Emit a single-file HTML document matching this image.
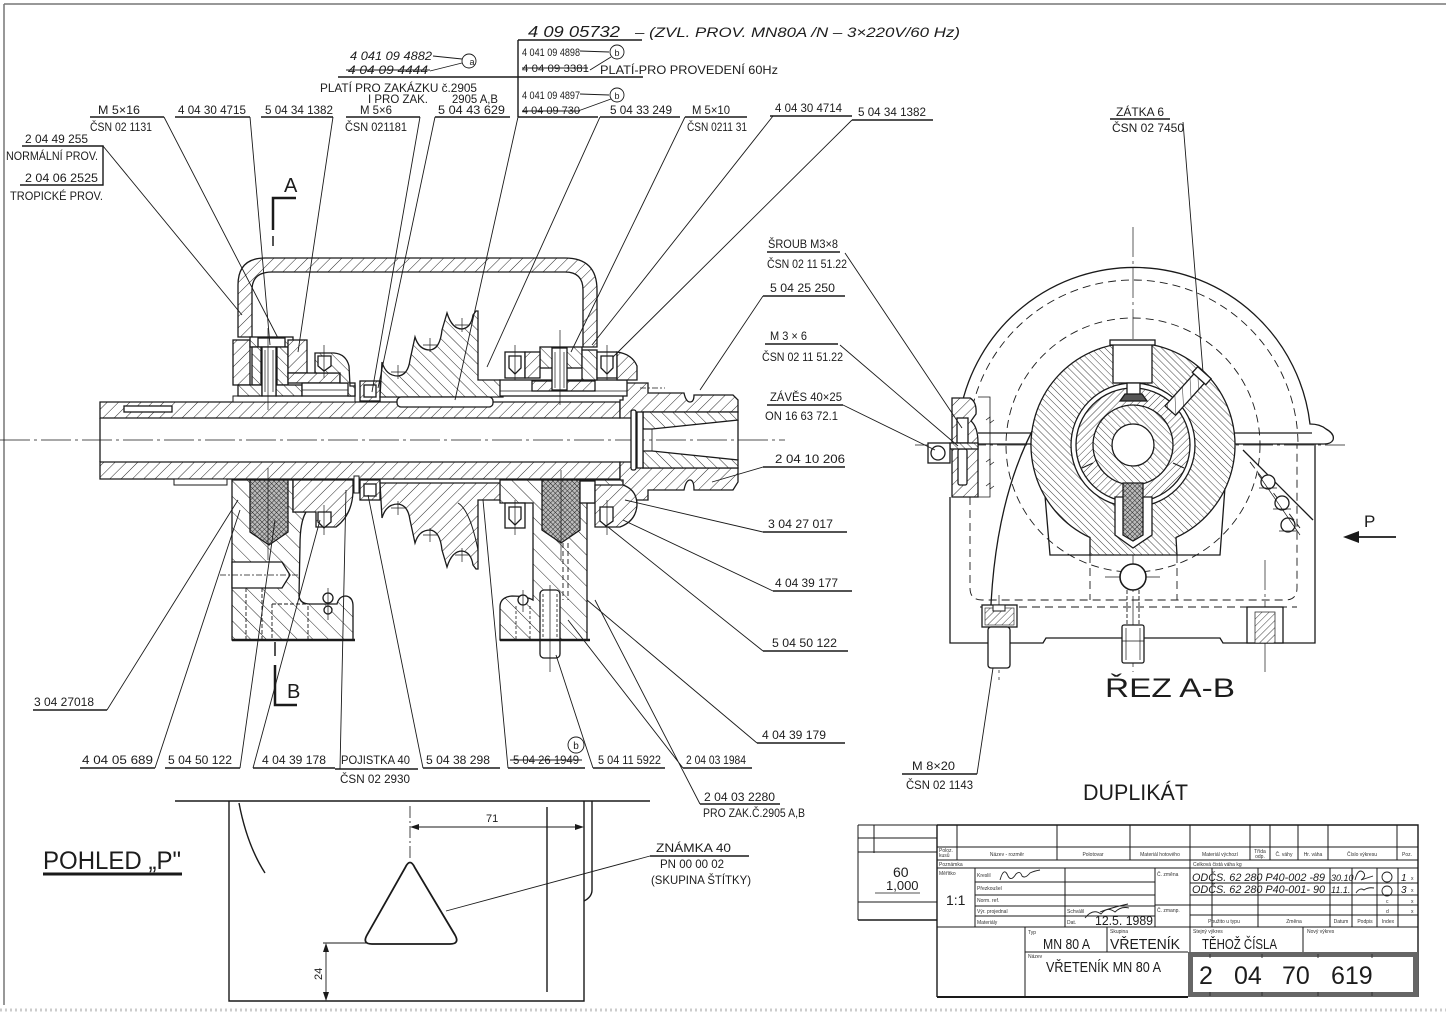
<!DOCTYPE html>
<html><head><meta charset="utf-8">
<style>
html,body{margin:0;padding:0;background:#fff;}
svg{display:block;}
text{font-family:"Liberation Sans",sans-serif;fill:#1c1c1c;}
.t{font-size:12px;}
.s{font-size:5px;fill:#333;}
.it{font-style:italic;}
</style></head><body>
<svg width="1446" height="1022" viewBox="0 0 1446 1022" xmlns="http://www.w3.org/2000/svg">
<defs>
<pattern id="hA" width="8" height="8" patternUnits="userSpaceOnUse" patternTransform="rotate(45)"><rect width="8" height="8" fill="#fff"/><line x1="0" y1="0" x2="0" y2="8" stroke="#2a2a2a" stroke-width="1"/></pattern>
<pattern id="hB" width="8" height="8" patternUnits="userSpaceOnUse" patternTransform="rotate(-45)"><rect width="8" height="8" fill="#fff"/><line x1="0" y1="0" x2="0" y2="8" stroke="#2a2a2a" stroke-width="1"/></pattern>
<pattern id="hC" width="11" height="11" patternUnits="userSpaceOnUse" patternTransform="rotate(45)"><rect width="11" height="11" fill="#fff"/><line x1="0" y1="0" x2="0" y2="11" stroke="#2a2a2a" stroke-width="1"/></pattern>
<pattern id="hD" width="11" height="11" patternUnits="userSpaceOnUse" patternTransform="rotate(-45)"><rect width="11" height="11" fill="#fff"/><line x1="0" y1="0" x2="0" y2="11" stroke="#2a2a2a" stroke-width="1"/></pattern>
<pattern id="hE" width="5" height="5" patternUnits="userSpaceOnUse" patternTransform="rotate(-45)"><rect width="5" height="5" fill="#fff"/><line x1="0" y1="0" x2="0" y2="5" stroke="#2a2a2a" stroke-width="0.9"/></pattern>
<pattern id="hF" width="5" height="5" patternUnits="userSpaceOnUse" patternTransform="rotate(45)"><rect width="5" height="5" fill="#fff"/><line x1="0" y1="0" x2="0" y2="5" stroke="#2a2a2a" stroke-width="0.9"/></pattern>
<pattern id="xX" width="3.4" height="3.4" patternUnits="userSpaceOnUse" patternTransform="rotate(45)"><rect width="3.4" height="3.4" fill="#bbb"/><path d="M0,0 V3.4 M0,0 H3.4" stroke="#222" stroke-width="0.9"/></pattern>
<path id="gearUp" d="M380,397 L382,362 Q386,376 398,376 Q408,375 410,360 L415,337 Q419,350 430,350 Q440,349 442,330 L447,313 Q452,329 462,329 Q471,328 473,315 L476,311 L478,311 L478,380 L500,380 L503,388 L503,397 Z"/>
</defs>
<rect width="1446" height="1022" fill="#fff"/>

<!-- border -->
<path d="M4,4 H1446 M4,4 V1005" stroke="#777" stroke-width="1.5" fill="none"/>
<path d="M0,1010 H1446" stroke="#ccc" stroke-width="3" stroke-dasharray="2,3" fill="none"/>

<!-- ============ LEFT SECTION VIEW ============ -->
<g stroke="#1a1a1a" stroke-width="1.3" fill="none">
<!-- centerline -->
<path d="M0,440 H785" stroke-width="0.8" stroke-dasharray="30,4,3,4"/>

<!-- bow handle -->
<path d="M238,337 L238,285 Q238,258 265,258 L565,258 Q597,258 597,290 L597,347 L583,347 L583,290 Q583,272 565,272 L272,272 Q252,272 252,290 L252,337 Z" fill="url(#hA)"/>

<!-- shaft -->
<path d="M100,402 L620,402 L620,418 L100,418 Z" fill="url(#hA)"/>
<path d="M100,462 L620,462 L620,479 L100,479 Z" fill="url(#hA)"/>
<path d="M100,418 V462"/>
<rect x="124" y="406" width="48" height="6" fill="#fff"/>
<rect x="174" y="479" width="53" height="6" fill="#fff" stroke-width="1"/>
<path d="M620,418 L620,400 L623,400 L623,383 L648,383 L648,393 L684,393 Q686,402 690,402 Q694,402 694,395 L733,395 L738,400 L738,412 L643,412 L643,418 Z" fill="url(#hA)"/>
<path d="M620,462 L643,462 L643,468 L738,468 L738,482 L733,490 L694,490 Q694,480 690,480 Q686,480 684,490 L648,490 L648,500 L626,500 L620,479 Z" fill="url(#hA)"/>
<path d="M643,412 L738,412 L738,420 L652,429 L643,429 Z" fill="url(#hB)"/>
<path d="M643,451 L652,451 L738,460 L738,468 L643,468 Z" fill="url(#hB)"/>
<path d="M738,420 V460"/>
<rect x="631" y="410" width="5" height="60" fill="#fff" rx="2"/>
<rect x="637" y="412" width="6" height="56" fill="#fff"/>
<path d="M652,429 V451" stroke-width="0.8"/>

<!-- upper left housing -->
<rect x="233" y="396" width="122" height="6" fill="#fff" stroke-width="1"/>
<rect x="233" y="340" width="17" height="45" fill="url(#hA)"/>
<rect x="250" y="337" width="43" height="10" fill="url(#hB)"/>
<rect x="258" y="338" width="27" height="9" fill="#fff"/>
<rect x="252" y="347" width="9" height="38" fill="url(#hB)"/>
<rect x="277" y="347" width="11" height="38" fill="url(#hB)"/>
<rect x="238" y="385" width="24" height="11" fill="url(#hB)"/>
<rect x="276" y="385" width="26" height="11" fill="url(#hB)"/>
<rect x="262" y="347" width="14" height="49" fill="#fff"/>
<path d="M265,350 V392 M273,350 V392" stroke-width="0.7"/>
<rect x="288" y="340" width="19" height="33" fill="url(#hA)"/>
<rect x="288" y="373" width="52" height="10" fill="url(#hA)"/>
<rect x="302" y="383" width="53" height="13" fill="#fff"/>
<path d="M302,390 H355" stroke-width="0.7"/>
<path d="M315,373 L315,353 L334,353 Q346,354 349,366 L350,386 L355,386 L355,396 L348,396 L348,383 L340,383 L340,373 Z" fill="url(#hB)"/>
<path d="M318,356 L331,356 L331,366 L324,371 L318,366 Z" fill="#fff"/>
<rect x="360" y="381" width="20" height="20" fill="url(#hA)"/>
<rect x="364" y="385" width="12" height="12" fill="#fff"/>

<!-- upper gear + key -->
<use href="#gearUp" fill="url(#hB)"/>
<rect x="397" y="397" width="96" height="10" rx="4" fill="#fff"/>

<!-- upper right housing -->
<rect x="500" y="380" width="127" height="16" fill="#fff"/>
<rect x="532" y="381" width="63" height="10" fill="url(#hA)"/>
<path d="M500,391 H627" stroke-width="0.7"/>
<rect x="540" y="347" width="42" height="21" fill="url(#hB)"/>
<rect x="505" y="352" width="20" height="26" fill="#fff"/>
<path d="M509,356 L521,356 L521,368 L515,374 L509,368 Z" fill="#fff"/>
<rect x="525" y="352" width="15" height="26" fill="url(#hA)"/>
<rect x="582" y="350" width="15" height="30" fill="url(#hB)"/>
<rect x="597" y="352" width="20" height="26" fill="#fff"/>
<path d="M601,356 L613,356 L613,368 L607,374 L601,368 Z" fill="#fff"/>
<path d="M617,352 Q632,354 637,366 L637,380 L617,380 Z" fill="url(#hA)"/>
<rect x="552" y="348" width="15" height="42" fill="#fff"/>
<path d="M555,352 V388 M564,352 V388" stroke-width="0.7"/>

<!-- lower left block -->
<path d="M232,480 L293,480 L293,512 L306,512 Q300,522 300,545 L299,596 Q300,604 310,604 L337,604 Q339,596 346,596 Q353,597 353,606 L353,640 L232,640 Z" fill="url(#hD)"/>
<path d="M250,480 L288,480 L288,532 L269,545 L250,532 Z" fill="url(#xX)"/>
<path d="M232,562 L282,562 L290,575 L282,588 L232,588 Z" fill="#fff"/>
<path d="M293,480 L353,480 L353,492 Q352,515 336,527 L316,527 L316,512 L293,512 Z" fill="url(#hA)"/>
<path d="M318,512 L331,512 L331,522 L324,528 L318,522 Z" fill="#fff"/>
<rect x="354" y="476" width="5" height="17" fill="#fff" stroke-width="1"/>
<rect x="360" y="480" width="20" height="20" fill="url(#hA)"/>
<rect x="364" y="484" width="12" height="12" fill="#fff"/>
<circle cx="328" cy="598" r="5" fill="#fff"/>
<circle cx="328" cy="610" r="4" fill="#fff"/>
<path d="M246,588 V640 M262,588 V640 M272,604 V640 M308,606 V640 M272,604 H308 M246,588 H262" stroke-width="0.9" stroke-dasharray="4,2"/>

<!-- lower gear -->
<use href="#gearUp" fill="url(#hB)" transform="matrix(1,0,0,-1,0,880)"/>
<path d="M458,503 Q470,510 478,550" stroke-width="1"/>

<!-- lower right block -->
<path d="M500,480 L623,480 L623,503 L587,503 L587,640 L500,640 L500,607 Q500,597 512,596 Q526,596 533,600 L533,503 L500,503 Z" fill="url(#hD)"/>
<path d="M542,480 L580,480 L580,530 L561,543 L542,530 Z" fill="url(#xX)"/>
<rect x="505" y="503" width="20" height="25" fill="#fff"/>
<path d="M509,507 L521,507 L521,519 L515,525 L509,519 Z" fill="#fff"/>
<rect x="580" y="481" width="15" height="22" fill="#fff"/>
<path d="M595,485 L623,485 Q637,490 637,505 Q636,521 620,527 L595,527 Z" fill="url(#hA)"/>
<path d="M600,507 L613,507 L613,521 L606,526 L600,521 Z" fill="#fff"/>
<rect x="540" y="590" width="20" height="68" rx="4" fill="#fff"/>
<path d="M540,640 H560 M543,594 V640 M557,594 V640" stroke-width="0.8" stroke-dasharray="3,2"/>
<path d="M563,543 V600 M568,543 V600" stroke-width="0.9" stroke-dasharray="5,3"/>
<circle cx="523" cy="600" r="5" fill="#fff"/>
<path d="M516,606 V640 M530,606 V640" stroke-width="0.8" stroke-dasharray="3,2"/>

<!-- base lines -->
<path d="M232,640 H355 M500,640 H590" stroke-width="2.5"/>

<!-- center marks -->
<g stroke-width="0.7">
<path d="M268,328 V410 M268,468 V560 M324,345 V378 M324,505 V535 M560,330 V405 M561,470 V560 M550,585 V672 M515,345 V380 M515,500 V535 M607,345 V380 M607,500 V535 M328,588 V620 M523,590 V612"/>
<path d="M391,372 H405 M398,365 V379 M423,345 H437 M430,338 V352 M455,325 H469 M462,318 V332"/>
<path d="M391,508 H405 M398,501 V515 M423,535 H437 M430,528 V542 M455,555 H469 M462,548 V562"/>
<path d="M640,388 H665 M220,575 H300" stroke-dasharray="6,2,2,2"/>
</g>
</g>

<!-- section marks -->
<g stroke="#1a1a1a" fill="none">
<path d="M273,230 V198 H296" stroke-width="2.5"/>
<path d="M273,236 V246" stroke-width="1.5"/>
<path d="M275,642 V656" stroke-width="1.5"/>
<path d="M275,665 V705 H297" stroke-width="2.5"/>
</g>
<text x="284" y="192" style="font-size:20px">A</text>
<text x="287" y="698" style="font-size:20px">B</text>

<!-- ============ RIGHT VIEW ŘEZ A-B ============ -->
<g stroke="#1a1a1a" stroke-width="1.3" fill="none">
<path d="M1133,227 V672 M915,445 H1345 M999,595 V680 M1265,560 V672 M1105,577 H1160" stroke-width="0.7" stroke-dasharray="30,4,3,4"/>
<!-- dashed hidden -->
<g stroke-width="0.9" stroke-dasharray="8,5">
<path d="M968,445 A165,165 0 0 1 1298,445"/>
<path d="M970,445 L970,588 Q970,600 982,600 L1285,600 Q1297,600 1297,588 L1297,445"/>
<path d="M980,607 H1297"/>
<circle cx="1133" cy="445" r="127"/>
<path d="M1090,555 V600 M1177,555 V600"/>
<path d="M1250,462 L1300,528"/>
</g>
<!-- outer arc & flange -->
<path d="M960,413 A177,177 0 0 1 1310,424 Q1320,424 1326,429 Q1335,434 1333,440 Q1331,444 1324,444 L978,444"/>
<path d="M978,433 H1312"/>
<!-- body -->
<path d="M950,497 V643 H1043 L1046,638 H1220 L1223,643 H1315 V444"/>
<path d="M990,643 Q990,505 1038,420"/>
<path d="M1243,450 L1313,520"/>
<path d="M1042,460 L1050,555 H1092 M1227,460 L1220,555 H1177"/>
<!-- hinge -->
<path d="M952,398 L970,398 Q977,402 976,414 L971,421 Q978,427 978,443 L978,497 L952,497 Z" fill="url(#hA)"/>
<rect x="957" y="418" width="11" height="25" fill="#fff"/>
<rect x="958" y="449" width="9" height="36" fill="#fff" rx="2"/>
<rect x="950" y="443" width="28" height="6" fill="url(#hE)"/>
<rect x="928" y="443" width="22" height="20" fill="#fff"/>
<circle cx="938" cy="453" r="7" fill="#fff"/>
<path d="M978,397 H990 V497 H978" stroke-width="0.8"/>
<path d="M986,420 l4,-3 l0,6 l4,-3 M986,462 l4,-3 l0,6 l4,-3 M986,486 l4,-3 l0,6 l4,-3" stroke-width="0.7"/>
<!-- main hatched housing -->
<path d="M1090,537.5 A102,102 0 1 1 1176,537.5 L1177,555 L1090,555 Z" fill="url(#hE)"/>
<circle cx="1133" cy="445" r="62" fill="#fff"/>
<circle cx="1133" cy="445" r="57" fill="url(#hF)"/>
<circle cx="1133" cy="445" r="40" fill="url(#hE)"/>
<circle cx="1133" cy="445" r="21" fill="#fff"/>
<path d="M1082,468 L1093,463 M1184,468 L1173,463" stroke-width="1.2"/>
<!-- key top -->
<rect x="1113" y="344" width="39" height="39" fill="#fff"/>
<rect x="1110" y="340" width="45" height="5" fill="#fff"/>
<rect x="1127" y="383" width="13" height="12" fill="#fff"/>
<path d="M1120,401 L1147,401 L1142,394 L1125,394 Z" fill="#555"/>
<!-- bottom channel + pin -->
<path d="M1115,497 L1152,497 L1152,535 L1133,548 L1115,535 Z" fill="#fff"/>
<path d="M1123,483 L1143,483 L1143,535 L1133,541 L1123,535 Z" fill="url(#xX)"/>
<!-- plug -->
<g transform="rotate(-48 1187 392)">
<rect x="1162" y="385" width="50" height="14" fill="url(#hA)"/>
<rect x="1205" y="383" width="8" height="18" fill="#fff"/>
</g>
<!-- ball & screws -->
<circle cx="1133" cy="577" r="13" fill="#fff" stroke-width="1.6"/>
<path d="M1127,590 V625 M1139,590 V625" stroke-width="0.9" stroke-dasharray="4,2"/>
<rect x="1122" y="625" width="22" height="38" fill="#fff" rx="2"/>
<path d="M1122,641 H1144 M1126,628 V660 M1140,628 V660" stroke-width="0.7"/>
<rect x="982" y="605" width="35" height="22" fill="#fff"/>
<rect x="985" y="608" width="29" height="17" fill="url(#hF)" stroke-width="0.6"/>
<rect x="993" y="605" width="12" height="6" fill="#fff" stroke-width="1"/>
<rect x="988" y="627" width="22" height="41" rx="3" fill="#fff"/>
<rect x="1247" y="607" width="36" height="36" fill="#fff"/>
<rect x="1255" y="612" width="20" height="31" fill="url(#hF)" stroke-width="0.7"/>
<circle cx="1268" cy="482" r="7" fill="#fff"/>
<circle cx="1282" cy="503" r="7" fill="#fff"/>
<circle cx="1288" cy="525" r="7" fill="#fff"/>
<path d="M1258,474 L1300,535 M1259,488 H1277 M1273,509 H1291 M1279,531 H1297" stroke-width="0.7"/>
</g>
<!-- P arrow -->
<path d="M1355,537 H1396" stroke="#1a1a1a" stroke-width="1.8"/>
<path d="M1343,537 L1359,531 L1359,543 Z" fill="#1a1a1a"/>
<text x="1364" y="527" style="font-size:17px">P</text>
<text x="1105" y="697" textLength="130" lengthAdjust="spacingAndGlyphs" style="font-size:27px">ŘEZ A-B</text>
<text x="1083" y="800" textLength="105" lengthAdjust="spacingAndGlyphs" style="font-size:22px">DUPLIKÁT</text>

<!-- ============ POHLED P ============ -->
<g stroke="#1a1a1a" fill="none" stroke-width="1.4">
<path d="M175,801 H650" stroke-width="1.6"/>
<path d="M229,801 V1001 H584 V801"/>
<path d="M592,801 V890 Q592,897 584,901"/>
<path d="M239,803 Q247,845 265,873"/>
<path d="M547,807 V992"/>
<path d="M410,806 V860" stroke-width="0.8" stroke-dasharray="12,3,2,3"/>
<path d="M414,827 H580" stroke-width="0.9"/>
<path d="M405,868 Q410,857 415,868 L455,935 Q460,944 450,944 L372,944 Q362,944 367,935 Z" stroke-width="1.8"/>
<path d="M323,943 H366 M326,947 V997" stroke-width="0.9"/>
<path d="M650,856 L446,911" stroke-width="0.9"/>
</g>
<path d="M410,827 L419,824 L419,830 Z M584,827 L575,824 L575,830 Z M326,943 L323,952 L329,952 Z M326,1001 L323,992 L329,992 Z" fill="#1a1a1a"/>
<text x="486" y="822" style="font-size:11px">71</text>
<text transform="translate(322,980) rotate(-90)" style="font-size:11px">24</text>
<text x="43" y="869" textLength="138" lengthAdjust="spacingAndGlyphs" style="font-size:25px">POHLED „P"</text>
<path d="M43,874 H182" stroke="#1a1a1a" stroke-width="3"/>
<text x="656" y="852" class="t" textLength="75" lengthAdjust="spacingAndGlyphs">ZNÁMKA  40</text>
<path d="M650,856 H749" stroke="#1a1a1a" stroke-width="1.6"/>
<text x="660" y="868" class="t" textLength="64" lengthAdjust="spacingAndGlyphs">PN 00 00 02</text>
<text x="651" y="884" class="t" textLength="100" lengthAdjust="spacingAndGlyphs">(SKUPINA ŠTÍTKY)</text>

<!-- ============ LEADERS & LABEL LINES ============ -->
<g stroke="#1a1a1a" stroke-width="0.9" fill="none">
<!-- top -->
<path d="M338,77 H643 M518,40 V117 M518,40 H642" stroke-width="1.4"/>
<path d="M90,117 H164 M175,117 H250 M261,117 H333 M346,117 H420 M435,117 H510 M518,117 H598 M600,117 H680 M685,117 H747 M770,116 H852 M852,120 H933" stroke-width="1.4"/>
<path d="M22,146 H103 V185 H20" stroke-width="1.4"/>
<path d="M103,146 L242,315 M164,117 L278,338 M250,117 L270,345 M333,117 L298,352 M420,117 L372,392 M435,117 L378,388 M518,117 L455,400 M600,117 L487,367 M685,117 L571,352 M773,116 L592,345 M852,120 L613,357"/>
<path d="M346,70 H430 M522,68 H588 M522,111 H580" stroke-width="1"/>
<path d="M433,56 L462,59 M430,71 L462,63 M580,51 L609,52 M590,70 L611,57 M580,94 L609,95 M578,111 L611,99"/>
<circle cx="469" cy="61" r="7"/>
<circle cx="617" cy="52" r="7"/>
<circle cx="617" cy="95" r="7"/>
<!-- right -->
<path d="M767,252 H840 M763,296 H845 M765,344 H838 M767,405 H843 M763,467 H845 M763,532 H847 M773,591 H852 M763,651 H848 M757,743 H845 M1110,119 H1170 M902,774 H977" stroke-width="1.4"/>
<path d="M845,253 L962,428 M763,296 L700,390 M840,345 L958,446 M843,405 L935,450 M763,467 L712,482 M763,532 L625,500 M773,591 L623,520 M763,651 L608,527 M757,743 L587,600 M1183,122 L1203,372 M977,774 L993,668"/>
<!-- bottom -->
<path d="M33,710 H107 M80,768 H155 M165,768 H240 M253,768 H335 M335,769 H418 M423,768 H500 M508,768 H585 M593,768 H665 M683,768 H752 M700,804 H780" stroke-width="1.4"/>
<path d="M107,710 L238,500 M155,768 L240,510 M240,768 L275,520 M253,768 L320,520 M340,769 L346,490 M423,768 L368,495 M508,768 L483,500 M593,768 L556,655 M683,768 L568,620 M700,804 L595,600"/>
<path d="M510,760 H582" stroke-width="1"/>
<circle cx="576" cy="745" r="8"/>
</g>
<text x="472" y="65" style="font-size:9px" text-anchor="middle">a</text>
<text x="617" y="56" style="font-size:9px" text-anchor="middle">b</text>
<text x="617" y="99" style="font-size:9px" text-anchor="middle">b</text>
<text x="576" y="749" style="font-size:10px" text-anchor="middle">b</text>

<!-- top texts -->
<g class="t">
<text x="528" y="37" class="it" textLength="92" lengthAdjust="spacingAndGlyphs" style="font-size:16px">4 09 05732</text>
<text x="635" y="37" class="it" textLength="325" lengthAdjust="spacingAndGlyphs" style="font-size:14px">–  (ZVL. PROV. MN80A /N  – 3×220V/60 Hz)</text>
<text x="350" y="60" class="it" textLength="82" lengthAdjust="spacingAndGlyphs">4 041 09 4882</text>
<text x="348" y="74" class="it" textLength="80" lengthAdjust="spacingAndGlyphs">4 04 09 4444</text>
<text x="320" y="92" textLength="157" lengthAdjust="spacingAndGlyphs">PLATÍ PRO ZAKÁZKU č.2905</text>
<text x="368" y="103" textLength="60" lengthAdjust="spacingAndGlyphs">I PRO  ZAK.</text>
<text x="452" y="103" textLength="46" lengthAdjust="spacingAndGlyphs">2905 A,B</text>
<text x="522" y="56" textLength="58" lengthAdjust="spacingAndGlyphs" style="font-size:11px">4 041 09 4898</text>
<text x="522" y="72" textLength="67" lengthAdjust="spacingAndGlyphs" style="font-size:11px">4 04 09 3381</text>
<text x="600" y="74" textLength="178" lengthAdjust="spacingAndGlyphs">PLATÍ-PRO PROVEDENÍ  60Hz</text>
<text x="522" y="99" textLength="58" lengthAdjust="spacingAndGlyphs" style="font-size:11px">4 041 09 4897</text>
<text x="522" y="114" textLength="58" lengthAdjust="spacingAndGlyphs" style="font-size:11px">4 04 09 730</text>
<text x="98" y="114" textLength="42" lengthAdjust="spacingAndGlyphs">M 5×16</text>
<text x="90" y="131" textLength="62" lengthAdjust="spacingAndGlyphs">ČSN 02 1131</text>
<text x="178" y="114" textLength="68" lengthAdjust="spacingAndGlyphs">4 04 30 4715</text>
<text x="265" y="114" textLength="68" lengthAdjust="spacingAndGlyphs">5 04 34 1382</text>
<text x="360" y="114" textLength="32" lengthAdjust="spacingAndGlyphs">M 5×6</text>
<text x="345" y="131" textLength="62" lengthAdjust="spacingAndGlyphs">ČSN 021181</text>
<text x="438" y="114" textLength="67" lengthAdjust="spacingAndGlyphs">5 04 43 629</text>
<text x="610" y="114" textLength="62" lengthAdjust="spacingAndGlyphs">5 04 33 249</text>
<text x="692" y="114" textLength="38" lengthAdjust="spacingAndGlyphs">M 5×10</text>
<text x="687" y="131" textLength="60" lengthAdjust="spacingAndGlyphs">ČSN 0211 31</text>
<text x="775" y="112" textLength="67" lengthAdjust="spacingAndGlyphs">4 04 30 4714</text>
<text x="858" y="116" textLength="68" lengthAdjust="spacingAndGlyphs">5 04 34 1382</text>
<text x="25" y="143" textLength="63" lengthAdjust="spacingAndGlyphs">2 04 49 255</text>
<text x="6" y="160" textLength="92" lengthAdjust="spacingAndGlyphs">NORMÁLNÍ PROV.</text>
<text x="25" y="182" textLength="73" lengthAdjust="spacingAndGlyphs">2 04 06 2525</text>
<text x="10" y="200" textLength="93" lengthAdjust="spacingAndGlyphs">TROPICKÉ  PROV.</text>
<text x="1116" y="116" textLength="48" lengthAdjust="spacingAndGlyphs">ZÁTKA 6</text>
<text x="1112" y="132" textLength="72" lengthAdjust="spacingAndGlyphs">ČSN 02 7450</text>
<!-- right -->
<text x="768" y="248" textLength="70" lengthAdjust="spacingAndGlyphs">ŠROUB M3×8</text>
<text x="767" y="268" textLength="80" lengthAdjust="spacingAndGlyphs">ČSN 02 11 51.22</text>
<text x="770" y="292" textLength="65" lengthAdjust="spacingAndGlyphs">5 04 25 250</text>
<text x="770" y="340" textLength="37" lengthAdjust="spacingAndGlyphs">M 3 × 6</text>
<text x="762" y="361" textLength="81" lengthAdjust="spacingAndGlyphs">ČSN 02 11 51.22</text>
<text x="770" y="401" textLength="72" lengthAdjust="spacingAndGlyphs">ZÁVĚS 40×25</text>
<text x="765" y="420" textLength="73" lengthAdjust="spacingAndGlyphs">ON 16 63 72.1</text>
<text x="775" y="463" textLength="70" lengthAdjust="spacingAndGlyphs">2 04 10 206</text>
<text x="768" y="528" textLength="65" lengthAdjust="spacingAndGlyphs">3 04 27 017</text>
<text x="775" y="587" textLength="63" lengthAdjust="spacingAndGlyphs">4 04 39 177</text>
<text x="772" y="647" textLength="65" lengthAdjust="spacingAndGlyphs">5 04 50 122</text>
<text x="762" y="739" textLength="64" lengthAdjust="spacingAndGlyphs">4 04 39 179</text>
<text x="912" y="770" textLength="43" lengthAdjust="spacingAndGlyphs">M 8×20</text>
<text x="906" y="789" textLength="67" lengthAdjust="spacingAndGlyphs">ČSN 02 1143</text>
<!-- bottom -->
<text x="34" y="706" textLength="60" lengthAdjust="spacingAndGlyphs">3 04 27018</text>
<text x="82" y="764" textLength="71" lengthAdjust="spacingAndGlyphs">4 04  05 689</text>
<text x="168" y="764" textLength="64" lengthAdjust="spacingAndGlyphs">5 04 50 122</text>
<text x="262" y="764" textLength="64" lengthAdjust="spacingAndGlyphs">4 04 39 178</text>
<text x="341" y="764" textLength="69" lengthAdjust="spacingAndGlyphs">POJISTKA 40</text>
<text x="340" y="783" textLength="70" lengthAdjust="spacingAndGlyphs">ČSN 02 2930</text>
<text x="426" y="764" textLength="64" lengthAdjust="spacingAndGlyphs">5 04  38 298</text>
<text x="513" y="764" textLength="66" lengthAdjust="spacingAndGlyphs">5 04 26 1949</text>
<text x="598" y="764" textLength="63" lengthAdjust="spacingAndGlyphs">5 04 11 5922</text>
<text x="686" y="764" textLength="60" lengthAdjust="spacingAndGlyphs">2 04 03 1984</text>
<text x="704" y="801" textLength="71" lengthAdjust="spacingAndGlyphs">2 04 03  2280</text>
<text x="703" y="817" textLength="102" lengthAdjust="spacingAndGlyphs">PRO ZAK.Č.2905 A,B</text>
</g>

<!-- ============ TITLE BLOCK ============ -->
<g stroke="#1a1a1a" fill="none" stroke-width="1">
<!-- mini table -->
<path d="M858,825 V920 M858,825 H937 M858,838 H937 M858,852 H937 M858,902 H937 M874,825 V853" />
<path d="M858,920 H937" stroke-width="1.6"/>
<path d="M875,893 H920" stroke-width="0.8"/>
<!-- main frame -->
<path d="M937,825 H1418 V997 M937,825 V997" stroke-width="1.4"/>
<path d="M937,997 H1188" stroke-width="2"/>
<path d="M937,847 H1418 M937,860 H1418 M937,868 H1418 M937,927 H1418" stroke-width="1.1"/>
<path d="M957,825 V860 M1057,825 V860 M1130,825 V860 M1190,825 V860 M1250,825 V860 M1270,825 V860 M1298,825 V860 M1328,825 V860 M1397,825 V860"/>
<path d="M1190,860 V868"/>
<path d="M975,868 V927 M1065,868 V927 M1155,868 V927 M1190,868 V927 M1212,868 V927 M1258,868 V927 M1330,868 V927 M1352,868 V927 M1377,868 V927 M1398,868 V927"/>
<path d="M975,882 H1155 M975,895 H1155 M975,906 H1155 M975,916 H1155 M1155,905 H1190 M1190,883 H1418 M1190,895 H1418 M1190,905 H1418 M1190,915 H1418"/>
<path d="M1025,927 V997 M1107,927 V952 M1190,927 V952 M1303,927 V952 M1025,952 H1188"/>
</g>
<rect x="1190.5" y="954.5" width="225" height="40" fill="none" stroke="#666" stroke-width="5"/>
<path d="M1210,954 v4 M1262,954 v4 M1318,954 v4 M1372,954 v4 M1210,992 v4 M1262,992 v4 M1318,992 v4 M1372,992 v4" stroke="#333" stroke-width="1"/>

<g>
<text x="893" y="877" style="font-size:14px">60</text>
<text x="886" y="890" style="font-size:13px">1,000</text>
<text x="946" y="905" style="font-size:14px">1:1</text>
<text x="939" y="852" class="s">Poloz.</text>
<text x="939" y="857" class="s">kusů</text>
<text x="1007" y="856" class="s" text-anchor="middle">Název - rozměr</text>
<text x="1093" y="856" class="s" text-anchor="middle">Polotovar</text>
<text x="1160" y="856" class="s" text-anchor="middle">Materiál hotového</text>
<text x="1220" y="856" class="s" text-anchor="middle">Materiál výchozí</text>
<text x="1260" y="853" class="s" text-anchor="middle">Třída</text>
<text x="1260" y="858" class="s" text-anchor="middle">odp.</text>
<text x="1284" y="856" class="s" text-anchor="middle">Č. váhy</text>
<text x="1313" y="856" class="s" text-anchor="middle">Hr. váha</text>
<text x="1362" y="856" class="s" text-anchor="middle">Číslo výkresu</text>
<text x="1407" y="856" class="s" text-anchor="middle">Poz.</text>
<text x="939" y="866" class="s">Poznámka</text>
<text x="1193" y="866" class="s">Celková čistá váha kg</text>
<text x="939" y="875" class="s">Měřítko</text>
<text x="977" y="877" class="s">Kreslil</text>
<text x="977" y="890" class="s">Přezkoušel</text>
<text x="977" y="902" class="s">Norm. ref.</text>
<text x="977" y="913" class="s">Výr. projednal</text>
<text x="977" y="924" class="s">Materiály</text>
<text x="1067" y="913" class="s">Schválil</text>
<text x="1067" y="924" class="s">Dat.</text>
<text x="1157" y="876" class="s">Č. změna</text>
<text x="1157" y="912" class="s">Č. zmanp.</text>
<text x="1095" y="925" textLength="58" lengthAdjust="spacingAndGlyphs" style="font-size:13px">12.5. 1989</text>
<text x="1192" y="881" class="it" textLength="133" lengthAdjust="spacingAndGlyphs" style="font-size:11px">ODČS. 62 280 P40-002 -89</text>
<text x="1331" y="881" class="it" style="font-size:9px">30.10</text>
<text x="1192" y="893" class="it" textLength="133" lengthAdjust="spacingAndGlyphs" style="font-size:11px">ODČS. 62 280 P40-001- 90</text>
<text x="1331" y="893" class="it" style="font-size:9px">11.1.</text>
<text x="1401" y="881" class="it" style="font-size:10px">1</text>
<text x="1401" y="893" class="it" style="font-size:10px">3</text>
<text x="1411" y="880" class="s">x</text>
<text x="1411" y="892" class="s">x</text>
<text x="1411" y="903" class="s">x</text>
<text x="1411" y="913" class="s">x</text>
<text x="1386" y="903" class="s">c</text>
<text x="1386" y="913" class="s">d</text>
<text x="1224" y="923" class="s" text-anchor="middle">Použito u typu</text>
<text x="1294" y="923" class="s" text-anchor="middle">Změna</text>
<text x="1341" y="923" class="s" text-anchor="middle">Datum</text>
<text x="1365" y="923" class="s" text-anchor="middle">Podpis</text>
<text x="1388" y="923" class="s" text-anchor="middle">Index</text>
<text x="1028" y="934" class="s">Typ</text>
<text x="1043" y="949" textLength="47" lengthAdjust="spacingAndGlyphs" style="font-size:15px">MN 80 A</text>
<text x="1110" y="933" class="s">Skupina</text>
<text x="1110" y="949" textLength="70" lengthAdjust="spacingAndGlyphs" style="font-size:15px">VŘETENÍK</text>
<text x="1193" y="933" class="s">Stejný výkres</text>
<text x="1202" y="949" textLength="75" lengthAdjust="spacingAndGlyphs" style="font-size:15px">TĚHOŽ  ČÍSLA</text>
<text x="1307" y="933" class="s">Nový výkres</text>
<text x="1028" y="958" class="s">Název</text>
<text x="1046" y="972" textLength="115" lengthAdjust="spacingAndGlyphs" style="font-size:15px">VŘETENÍK  MN 80 A</text>
<text x="1199" y="984" style="font-size:25px">2</text>
<text x="1234" y="984" style="font-size:25px">04</text>
<text x="1282" y="984" style="font-size:25px">70</text>
<text x="1331" y="984" style="font-size:25px">619</text>
</g>
<g stroke="#222" fill="none" stroke-width="0.9">
<circle cx="1387" cy="877" r="5"/>
<circle cx="1387" cy="891" r="5"/>
<path d="M1000,880 q4,-14 8,-4 q3,6 8,-2 q4,-4 6,2 q3,3 8,-3 q4,-2 10,-3"/>
<path d="M1085,918 q8,-10 16,-4 q6,-8 14,-2 q6,-6 14,-4 M1100,912 q10,-4 28,-8"/>
<path d="M1355,880 q3,-12 8,-8 q4,4 -2,8 q6,-2 12,-4 M1356,893 q4,-6 8,-3 q4,-3 10,-2"/>
</g>
</svg>
</body></html>
